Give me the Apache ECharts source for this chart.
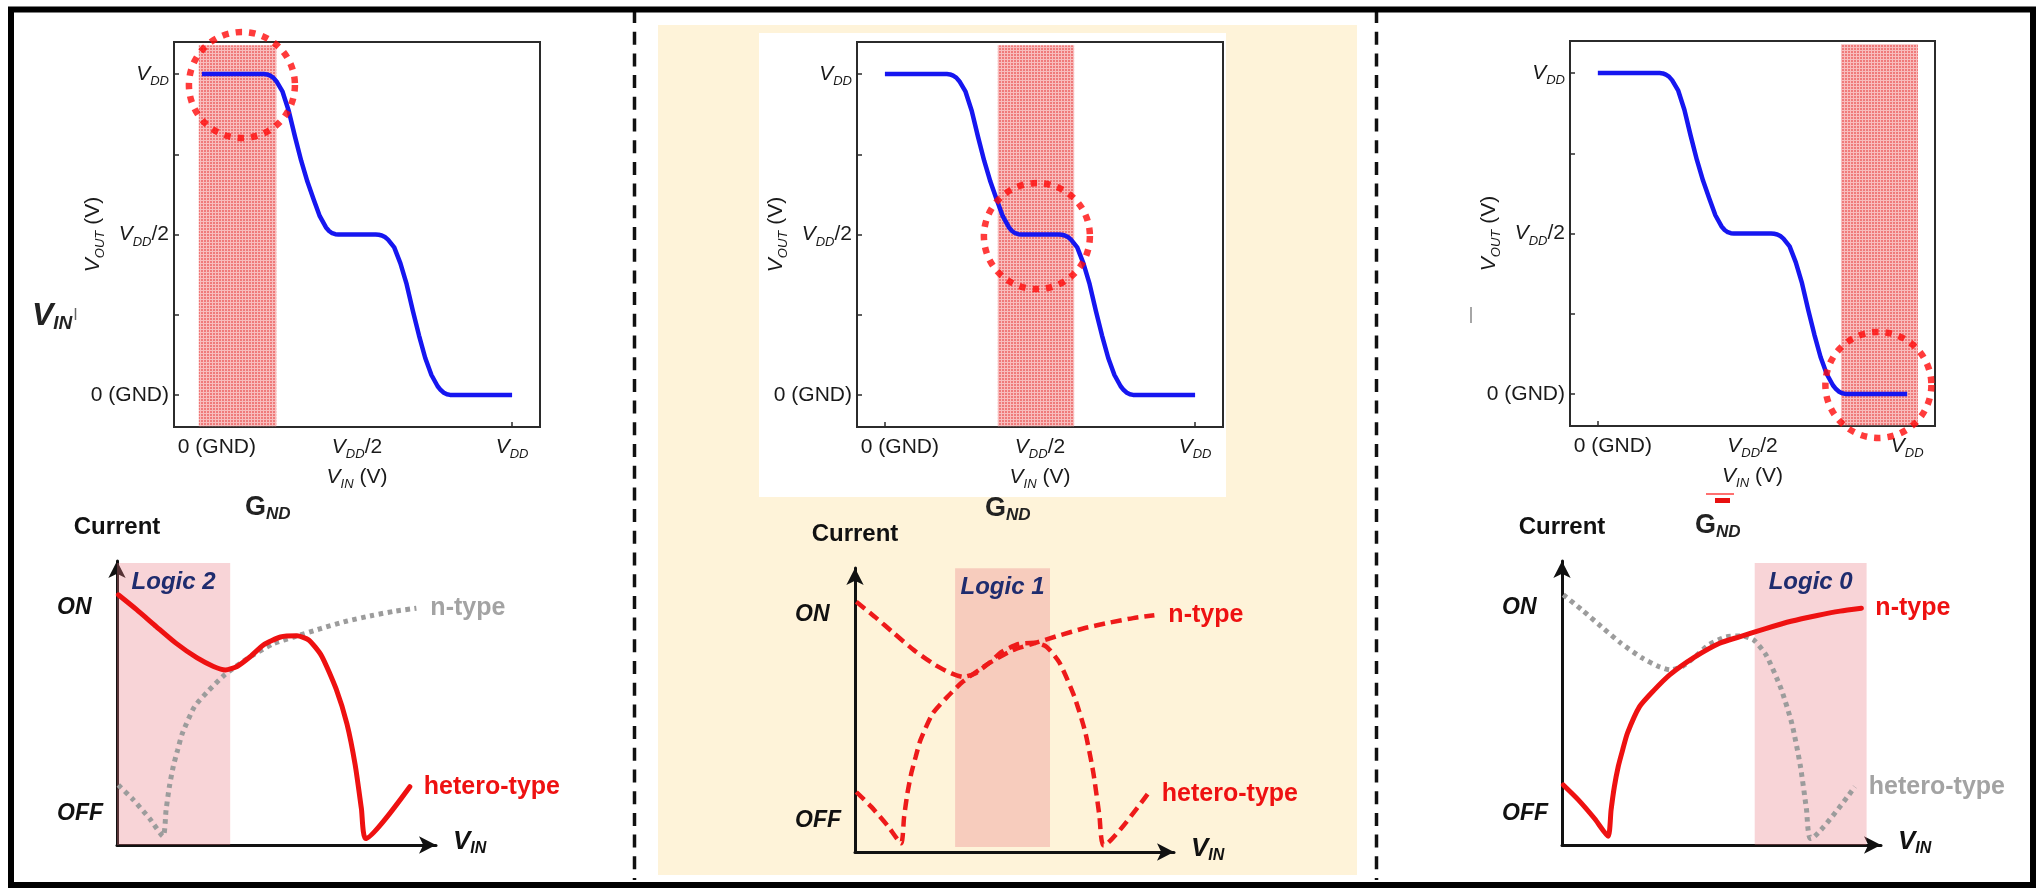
<!DOCTYPE html>
<html>
<head>
<meta charset="utf-8">
<title>Ternary inverter: transfer curves and current schematics</title>
<style>
  html, body { margin: 0; padding: 0; background: #ffffff; }
  #main { width: 2042px; height: 892px; }
</style>
<script src="https://cdn.jsdelivr.net/npm/echarts@6/dist/echarts.min.js"></script>
</head>
<body>
<div id="main"></div>
<script>
// ---------- Voltage transfer curve (V_IN and V_OUT in units of V_DD) ----------
const vtcVin  = [0, 0.05, 0.10, 0.15, 0.20, 0.21, 0.22, 0.23, 0.24, 0.26, 0.28, 0.30, 0.32, 0.34, 0.36, 0.38, 0.40, 0.41, 0.42, 0.43, 0.44,
                 0.50, 0.56, 0.57, 0.58, 0.59, 0.60, 0.62, 0.64, 0.66, 0.68, 0.70, 0.72, 0.74, 0.76, 0.77, 0.78, 0.79, 0.80, 0.90, 1.00];
const vtcVout = [1, 1, 1, 1, 1, 0.999, 0.995, 0.989, 0.978, 0.945, 0.885, 0.805, 0.73, 0.665, 0.61, 0.557, 0.522, 0.511, 0.504, 0.501, 0.5,
                 0.5, 0.5, 0.499, 0.497, 0.492, 0.484, 0.46, 0.41, 0.345, 0.262, 0.185, 0.115, 0.062, 0.027, 0.015, 0.007, 0.002, 0, 0, 0];

// Highlighted input range of each logic state (V_IN, units of V_DD)
const stateNames = ['Logic 2', 'Logic 1', 'Logic 0'];
const vtcBandStart = [-0.01, 0.364, 0.786];
const vtcBandEnd   = [0.24, 0.61, 1.035];
// Operating point circled in each transfer curve (V_IN, V_OUT)
const focusVin  = [0.129, 0.49, 0.907];
const focusVout = [0.966, 0.495, 0.028];

// Tick positions of the transfer-curve axes
const vLabelTicks = [0, 0.5, 1];
const vInTickMarks = [0, 1];
const vOutTickMarks = [0, 0.25, 0.5, 0.75, 1];

// ---------- Schematic drain currents (arbitrary units) ----------
const nTypeVin = [0.04, 0.5, 1.0, 1.41, 1.5, 1.6, 1.72, 1.85, 2.0, 2.37, 2.8, 3.3, 4.05, 4.8, 5.4, 6.2, 7.0, 7.8, 8.5, 9.15];
const nTypeCur = [2.06, 1.55, 0.9, 0.3, 1.2, 2.0, 2.7, 3.25, 3.84, 4.75, 5.3, 5.85, 6.45, 6.92, 7.14, 7.42, 7.68, 7.88, 8.03, 8.13];
const heteroVin = [0.04, 0.6, 1.2, 1.8, 2.45, 2.95, 3.31, 3.67, 4.08, 4.48, 5.0, 5.5, 5.86, 6.25, 6.7, 7.03, 7.28, 7.47, 7.6, 8.95];
const heteroCur = [8.59, 8.08, 7.5, 6.93, 6.42, 6.13, 6.01, 6.13, 6.47, 6.87, 7.14, 7.18, 7.04, 6.5, 5.35, 4.15, 2.75, 1.25, 0.22, 2.0];

// Logic windows on the current schematics
const logicVinStart = [0, 3.06, 5.89];
const logicVinEnd   = [3.46, 5.96, 9.31];
const logicCurLow   = [0, 0.17, 0];
const logicCurHigh  = [9.68, 9.74, 9.68];

// Current level labels
const levelValues = [1.08, 8.15];
const levelNames  = ['OFF', 'ON'];

// ---------- styling ----------
const FONT = '"Liberation Sans", Arial, Helvetica, sans-serif';
const INK = '#1a1a1a';
const RED = '#EE1111';
const GRAY = '#9C9C9C';
const NAVY = '#1F2C6E';

const zip = (a, b) => a.map((v, i) => [v, b[i]]);
const vtcData = zip(vtcVin, vtcVout);
const nTypeData = zip(nTypeVin, nTypeCur);
const heteroData = zip(heteroVin, heteroCur);

// fine pink mesh used for the highlighted V_IN windows
function meshPattern() {
  const c = document.createElement('canvas');
  c.width = 3; c.height = 3;
  const ctx = c.getContext('2d');
  ctx.fillStyle = '#F8BDBD';
  ctx.fillRect(0, 0, 3, 3);
  ctx.fillStyle = '#EF7A7A';
  ctx.fillRect(0, 0, 2, 2);
  return c;
}
const mesh = meshPattern();

const tickRich = {
  v: { fontFamily: FONT, fontSize: 21, fontStyle: 'italic', lineHeight: 28, color: INK },
  s: { fontFamily: FONT, fontSize: 13, fontStyle: 'italic', lineHeight: 12, verticalAlign: 'bottom', color: INK },
  n: { fontFamily: FONT, fontSize: 21, lineHeight: 28, color: INK },
  g: { fontFamily: FONT, fontSize: 21, lineHeight: 28, color: INK, padding: [0, 0, 0, 30] }
};
function vddLabel(v, zeroStyle) {
  if (v === 0) return '{' + zeroStyle + '|0 (GND)}';
  if (v === 0.5) return '{v|V}{s|DD}{n|/2}';
  return '{v|V}{s|DD}';
}

const topGrids = [
  { left: 174, top: 42, width: 366, height: 385 },
  { left: 857, top: 42, width: 366, height: 385 },
  { left: 1570, top: 41, width: 365, height: 385 }
];
const botGrids = [
  { left: 117, top: 561, width: 319, height: 284 },
  { left: 855, top: 568, width: 319, height: 284 },
  { left: 1562, top: 561, width: 319, height: 284 }
];

const grid = [];
const xAxis = [];
const yAxis = [];
const series = [];

// transfer-curve panels
topGrids.forEach((g, i) => {
  grid.push(Object.assign({ show: true, borderColor: '#2b2b2b', borderWidth: 2, backgroundColor: 'transparent' }, g));
  xAxis.push({
    type: 'value', gridIndex: i, min: -0.09, max: 1.09,
    axisLine: { show: false, onZero: false }, splitLine: { show: false },
    axisTick: { show: true, inside: true, length: 5, customValues: vInTickMarks, lineStyle: { color: '#2b2b2b', width: 1.5 } },
    axisLabel: { customValues: vLabelTicks, margin: 6, formatter: v => vddLabel(v, 'g'), rich: tickRich },
    name: '{v|V}{s|IN}{n| (V)}', nameLocation: 'middle', nameGap: 36,
    nameTextStyle: { rich: tickRich }
  });
  yAxis.push({
    type: 'value', gridIndex: i, min: -0.1, max: 1.1,
    axisLine: { show: false, onZero: false }, splitLine: { show: false },
    axisTick: { show: true, inside: true, length: 5, customValues: vOutTickMarks, lineStyle: { color: '#2b2b2b', width: 1.5 } },
    axisLabel: { customValues: vLabelTicks, margin: 5, formatter: v => vddLabel(v, 'n'), rich: tickRich },
    name: '{v|V}{s|OUT}{n| (V)}', nameLocation: 'middle', nameRotate: 90, nameGap: 67,
    nameMoveOverlap: false,
    nameTextStyle: { rich: tickRich }
  });
  series.push({
    type: 'line', name: 'V_OUT', xAxisIndex: i, yAxisIndex: i, data: vtcData,
    showSymbol: false, smooth: false, silent: true, z: 3,
    lineStyle: { color: '#1616F0', width: 4.5, join: 'round' },
    markArea: {
      silent: true,
      itemStyle: { color: { image: mesh, repeat: 'repeat' }, opacity: 1 },
      data: [[{ coord: [vtcBandStart[i], -0.098] }, { coord: [vtcBandEnd[i], 1.09] }]]
    }
  });
  series.push({
    type: 'scatter', xAxisIndex: i, yAxisIndex: i, data: [[focusVin[i], focusVout[i]]],
    symbol: 'circle', symbolSize: 106, clip: false, silent: true, z: 6,
    itemStyle: { color: 'rgba(0,0,0,0)', borderColor: '#FF0A0A', borderWidth: 6.5, borderType: [6.5, 7] }
  });
});

// current schematics
const lineLooks = {
  solid:  { color: RED, width: 5, type: 'solid', cap: 'round' },
  dotted: { color: GRAY, width: 5, type: [4.5, 4.5] },
  dashed: { color: '#EE1A1A', width: 4.5, type: [11, 6] }
};
const panelLooks = [
  { nType: 'dotted', hetero: 'solid' },
  { nType: 'dashed', hetero: 'dashed' },
  { nType: 'solid',  hetero: 'dotted' }
];
const labelColor = { solid: RED, dashed: RED, dotted: '#A3A3A3' };

const subRich = {
  V: { fontFamily: FONT, fontSize: 26, fontWeight: 'bold', fontStyle: 'italic', lineHeight: 30, color: '#111' },
  IN: { fontFamily: FONT, fontSize: 16, fontWeight: 'bold', fontStyle: 'italic', lineHeight: 14, verticalAlign: 'bottom', color: '#111' }
};

botGrids.forEach((g, k) => {
  const idx = 3 + k;
  grid.push(Object.assign({ show: false }, g));
  const axisLine = { show: true, onZero: false, symbol: ['none', 'arrow'], symbolSize: [13, 17], lineStyle: { color: '#111', width: 3 } };
  xAxis.push({
    type: 'value', gridIndex: idx, min: 0, max: 9.75,
    axisLine: axisLine, axisTick: { show: false }, axisLabel: { show: false }, splitLine: { show: false },
    name: '{V|V}{IN|IN}', nameLocation: 'end', nameGap: 17,
    nameTextStyle: { rich: subRich, padding: [0, 0, 6, 0] }
  });
  yAxis.push({
    type: 'value', gridIndex: idx, min: 0, max: 9.75,
    axisLine: axisLine, axisTick: { show: false }, splitLine: { show: false },
    axisLabel: {
      customValues: levelValues, align: 'left', margin: 60,
      formatter: v => levelNames[levelValues.indexOf(v)],
      fontFamily: FONT, fontSize: 23, fontWeight: 'bold', fontStyle: 'italic', color: '#111'
    },
    name: 'Current', nameLocation: 'end', nameGap: 22,
    nameTextStyle: { fontFamily: FONT, fontSize: 24, fontWeight: 'bold', color: '#111', align: 'center' }
  });

  const look = panelLooks[k];
  const mkLabel = kind => ({
    show: true, formatter: '{a}', distance: 14,
    fontFamily: FONT, fontSize: 25, fontWeight: 'bold', color: labelColor[kind]
  });
  const nTypeSeries = {
    type: 'line', name: 'n-type', xAxisIndex: idx, yAxisIndex: idx, data: nTypeData,
    showSymbol: false, smooth: 0.2, clip: false, silent: true,
    z: look.nType === 'solid' ? 4 : 3,
    lineStyle: lineLooks[look.nType], endLabel: mkLabel(look.nType),
    markArea: {
      silent: true,
      itemStyle: { color: 'rgba(232,120,130,0.32)' },
      label: {
        show: true, position: 'insideTop', distance: 7,
        fontFamily: FONT, fontSize: 24, fontWeight: 'bold', fontStyle: 'italic', color: NAVY
      },
      data: [[{ name: stateNames[k], coord: [logicVinStart[k], logicCurLow[k]] },
              { coord: [logicVinEnd[k], logicCurHigh[k]] }]]
    }
  };
  const heteroSeries = {
    type: 'line', name: 'hetero-type', xAxisIndex: idx, yAxisIndex: idx, data: heteroData,
    showSymbol: false, smooth: 0.2, clip: false, silent: true,
    z: look.hetero === 'solid' ? 4 : 3,
    lineStyle: lineLooks[look.hetero], endLabel: mkLabel(look.hetero)
  };
  series.push(nTypeSeries, heteroSeries);
});

// panel frames, dividers and stray caption fragments
const gndRich = {
  G: { fontFamily: FONT, fontSize: 27, fontWeight: 'bold', lineHeight: 30, fill: '#222' },
  s: { fontFamily: FONT, fontSize: 17, fontWeight: 'bold', fontStyle: 'italic', lineHeight: 16, verticalAlign: 'bottom', fill: '#222' }
};
const graphic = [
  { type: 'rect', z: -10, shape: { x: 658, y: 25, width: 699, height: 850 }, style: { fill: '#FEF3D9' } },
  { type: 'rect', z: -9, shape: { x: 759, y: 33, width: 467, height: 464 }, style: { fill: '#ffffff' } },
  { type: 'line', z: 50, shape: { x1: 634.5, y1: 10, x2: 634.5, y2: 880 }, style: { stroke: '#111', lineWidth: 3.5, lineDash: [13, 8.7] } },
  { type: 'line', z: 50, shape: { x1: 1376.5, y1: 10, x2: 1376.5, y2: 880 }, style: { stroke: '#111', lineWidth: 3.5, lineDash: [13, 8.7] } },
  { type: 'rect', z: 60, shape: { x: 11, y: 9.5, width: 2022, height: 875.5 }, style: { fill: 'none', stroke: '#000', lineWidth: 6 } },
  { type: 'text', z: 20, x: 245, y: 508, style: { text: '{G|G}{s|ND}', rich: gndRich, verticalAlign: 'middle' } },
  { type: 'text', z: 20, x: 985, y: 509, style: { text: '{G|G}{s|ND}', rich: gndRich, verticalAlign: 'middle' } },
  { type: 'text', z: 20, x: 1695, y: 526, style: { text: '{G|G}{s|ND}', rich: gndRich, verticalAlign: 'middle' } },
  { type: 'rect', z: 20, shape: { x: 1706, y: 493, width: 28, height: 2 }, style: { fill: '#FF7070' } },
  { type: 'rect', z: 20, shape: { x: 1715, y: 498, width: 15, height: 5 }, style: { fill: '#E81010' } },
  { type: 'text', z: 20, x: 32, y: 316, style: {
      text: '{V|V}{s|IN}', verticalAlign: 'middle',
      rich: {
        V: { fontFamily: FONT, fontSize: 32, fontWeight: 'bold', fontStyle: 'italic', lineHeight: 34, fill: '#222' },
        s: { fontFamily: FONT, fontSize: 19, fontWeight: 'bold', fontStyle: 'italic', lineHeight: 18, verticalAlign: 'bottom', fill: '#222' }
      } } },
  { type: 'line', z: 20, shape: { x1: 75.5, y1: 308, x2: 75.5, y2: 320 }, style: { stroke: '#666', lineWidth: 1.5 } },
  { type: 'line', z: 20, shape: { x1: 1471, y1: 307, x2: 1471, y2: 323 }, style: { stroke: '#888', lineWidth: 1.5 } }
];

const chart = echarts.init(document.getElementById('main'), null, { renderer: 'canvas' });
chart.setOption({
  animation: false,
  backgroundColor: '#ffffff',
  textStyle: { fontFamily: FONT },
  grid: grid,
  xAxis: xAxis,
  yAxis: yAxis,
  series: series,
  graphic: graphic
});
</script>
</body>
</html>
